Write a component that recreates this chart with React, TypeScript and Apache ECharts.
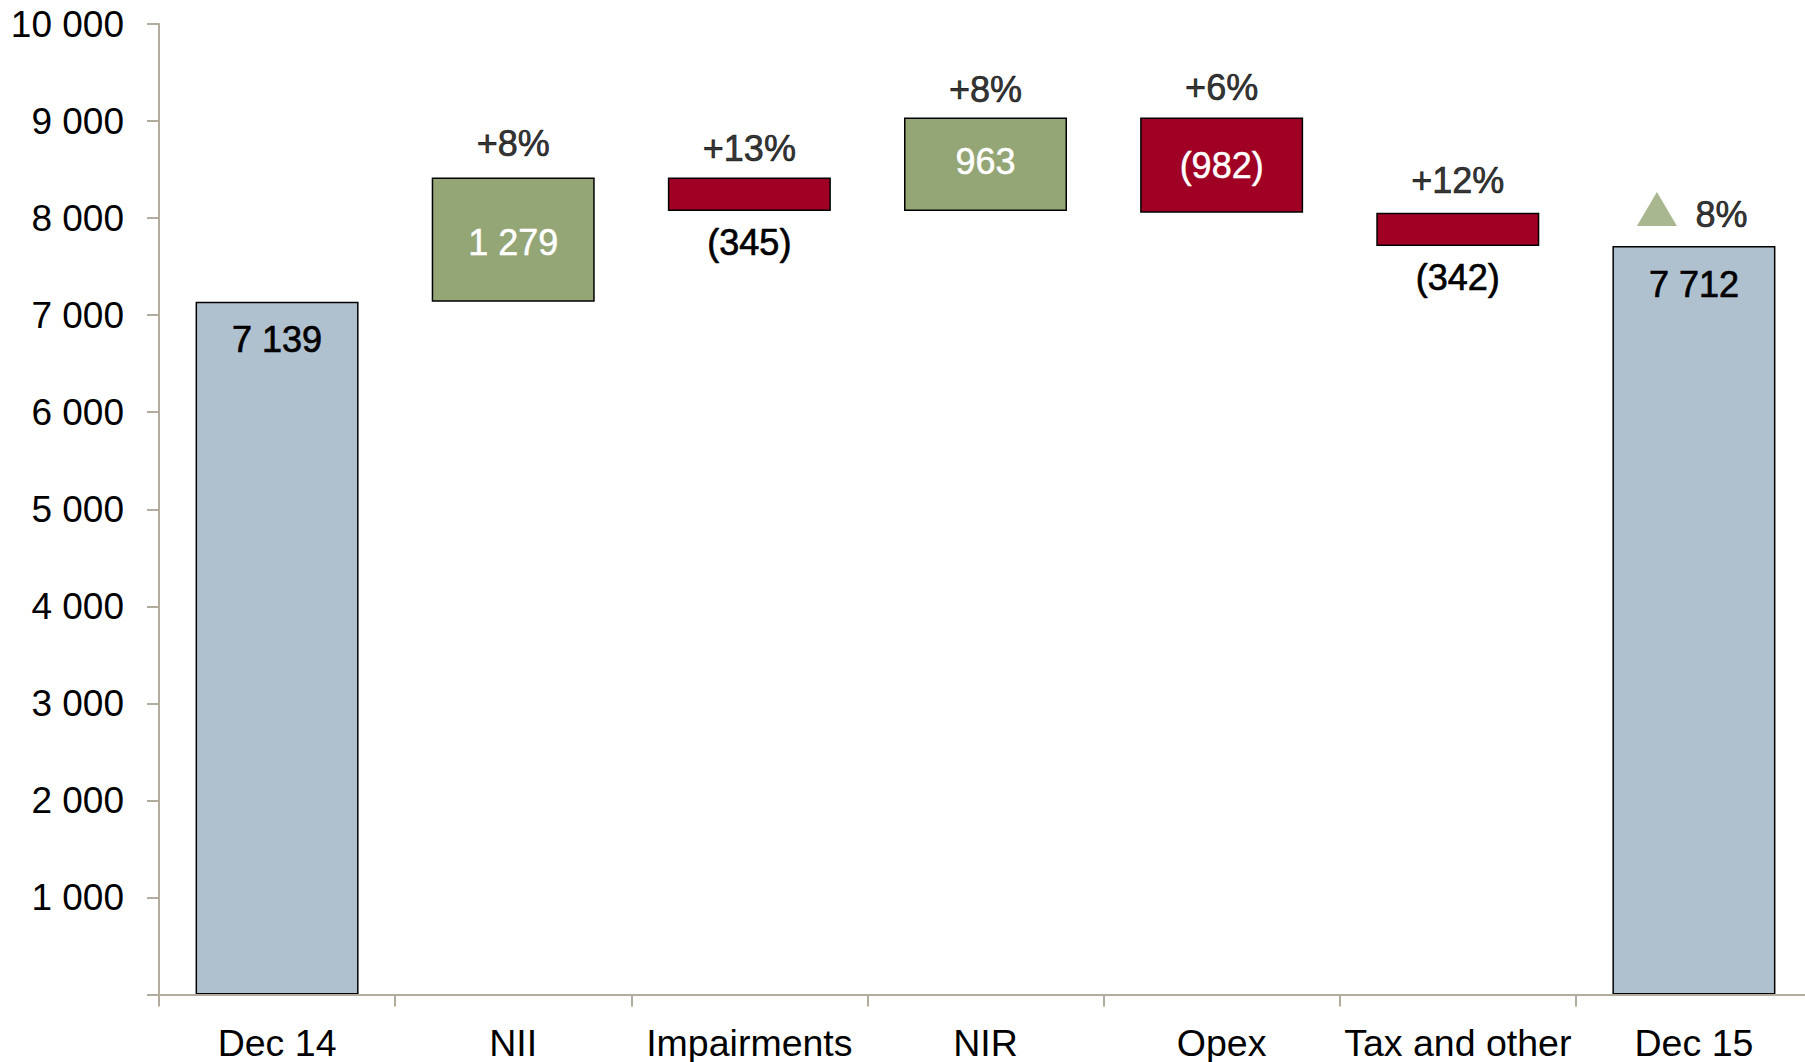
import React, { useEffect, useRef } from 'react';
import * as echarts from 'echarts';

// ---------- data ----------
const categories = ['Dec 14', 'NII', 'Impairments', 'NIR', 'Opex', 'Tax and other', 'Dec 15'];
const totals: (number | null)[] = [7139, null, null, null, null, null, 7712];
const changes: (number | null)[] = [null, 1279, -345, 963, -982, -342, null];
const growthLabels = ['', '+8%', '+13%', '+8%', '+6%', '+12%', '8%'];
const yMin = 0;
const yMax = 10000;
const yInterval = 1000;

// ---------- styles ----------
const FONT = '"Liberation Sans", Arial, Helvetica, sans-serif';
const AXIS_COLOR = '#B3AB9D';
const BLUE = '#AFC1CF';
const GREEN = '#94A576';
const RED = '#A00024';
const pctLabelDistance = [0, 16, 11, 10.5, 12, 14, 13.5];
const BORDER_W = 0.7;

function fmt(v: number): string {
  const s = Math.abs(v)
    .toString()
    .replace(/\B(?=(\d{3})+(?!\d))/g, ' ');
  return v < 0 ? `(${s})` : s;
}

function buildOption() {
  const base: (number | null)[] = [];
  const totalData: (number | null)[] = [];
  const incData: any[] = [];
  const decData: any[] = [];
  const tops: (number | null)[] = [];
  let running = 0;
  categories.forEach((_, i) => {
    const t = totals[i];
    const c = changes[i];
    if (t != null) {
      running = t;
      base.push(0);
      totalData.push(t);
      incData.push(null);
      decData.push(null);
      tops.push(t);
    } else if (c != null) {
      totalData.push(null);
      if (c >= 0) {
        base.push(running);
        incData.push(c);
        decData.push(null);
        running += c;
        tops.push(running);
      } else {
        const top = running;
        running += c;
        base.push(running);
        incData.push(null);
        const tall = Math.abs(c) > 600;
        decData.push({
          value: -c,
          label: tall
            ? { position: 'inside', color: '#fff', textBorderColor: '#fff', textBorderWidth: 0.5 }
            : { position: 'bottom', color: '#000', textBorderColor: '#000', textBorderWidth: BORDER_W, distance: 13 },
        });
        tops.push(top);
      }
    }
  });

  const pctData = tops.map((v, i) =>
    growthLabels[i]
      ? {
          value: v,
          label: {
            distance: pctLabelDistance[i],
            offset: i === categories.length - 1 ? [27.5, 0] : [0, 0],
          },
        }
      : null
  );
  const triData = tops.map((v, i) => (i === categories.length - 1 ? v : null));
  const incItems = incData.map((v, i) =>
    v == null ? null : { value: v, label: { offset: [0, i === 1 ? 3 : -3] } }
  );

  const barCommon = {
    type: 'bar',
    stack: 'w',
    barWidth: 163,
    itemStyle: { borderColor: '#000', borderWidth: 1.5 },
  };

  return {
    animation: false,
    backgroundColor: '#fff',
    textStyle: { fontFamily: FONT },
    grid: {
      left: 159,
      top: 24,
      width: 1653,
      height: 970.5,
      containLabel: false,
      outerBoundsMode: 'none',
    },
    xAxis: {
      type: 'category',
      data: categories,
      z: 3,
      axisLine: { show: true, lineStyle: { color: AXIS_COLOR, width: 2 } },
      axisTick: { show: true, length: 12, interval: 0, alignWithLabel: false, lineStyle: { color: AXIS_COLOR, width: 2 } },
      axisLabel: { interval: 0, margin: 29, fontSize: 37.5, color: '#000', fontFamily: FONT },
      splitLine: { show: false },
    },
    yAxis: {
      type: 'value',
      min: yMin,
      max: yMax,
      interval: yInterval,
      axisLine: { show: true, lineStyle: { color: AXIS_COLOR, width: 2 } },
      axisTick: { show: true, length: 12, lineStyle: { color: AXIS_COLOR, width: 2 } },
      axisLabel: {
        margin: 35,
        fontSize: 37,
        color: '#000',
        fontFamily: FONT,
        formatter: (v: number) => (v === 0 ? '' : fmt(v)),
      },
      splitLine: { show: false },
    },
    series: [
      {
        type: 'bar',
        stack: 'w',
        barWidth: 163,
        silent: true,
        itemStyle: { color: 'transparent', borderWidth: 0 },
        emphasis: { disabled: true },
        data: base,
      },
      {
        ...barCommon,
        name: 'Total',
        itemStyle: { ...barCommon.itemStyle, color: BLUE },
        label: {
          show: true,
          position: 'insideTop',
          distance: 20,
          fontSize: 36,
          color: '#000',
          textBorderColor: '#000',
          textBorderWidth: BORDER_W,
          fontFamily: FONT,
          formatter: (p: any) => fmt(p.value),
        },
        data: totalData,
      },
      {
        ...barCommon,
        name: 'Increase',
        itemStyle: { ...barCommon.itemStyle, color: GREEN },
        label: {
          show: true,
          position: 'inside',
          fontSize: 36,
          color: '#fff',
          textBorderColor: '#fff',
          textBorderWidth: 0.5,
          fontFamily: FONT,
          formatter: (p: any) => fmt(p.value),
        },
        data: incItems,
      },
      {
        ...barCommon,
        name: 'Decrease',
        itemStyle: { ...barCommon.itemStyle, color: RED },
        label: {
          show: true,
          fontSize: 36,
          fontFamily: FONT,
          formatter: (p: any) => fmt(-p.value),
        },
        data: decData,
      },
      {
        type: 'scatter',
        name: 'Growth',
        symbolSize: 0,
        silent: true,
        z: 5,
        label: {
          show: true,
          position: 'top',
          fontSize: 36,
          color: '#000',
          textBorderColor: '#000',
          textBorderWidth: BORDER_W,
          fontFamily: FONT,
          formatter: (p: any) => growthLabels[p.dataIndex],
        },
        data: pctData,
      },
      {
        type: 'scatter',
        name: 'Marker',
        symbol: 'triangle',
        symbolSize: [40, 34],
        symbolOffset: [-37, -37],
        silent: true,
        z: 5,
        itemStyle: { color: GREEN },
        data: triData,
      },
    ],
  };
}

export default function App() {
  const ref = useRef<HTMLDivElement>(null);
  useEffect(() => {
    document.body.style.margin = '0';
    if (!ref.current) return;
    const chart = echarts.init(ref.current, undefined, { renderer: 'svg' });
    chart.setOption(buildOption() as any);
    return () => chart.dispose();
  }, []);
  return (
    <div
      ref={ref}
      style={{ position: 'fixed', left: 0, top: 0, width: 1805, height: 1062, background: '#fff' }}
    />
  );
}
